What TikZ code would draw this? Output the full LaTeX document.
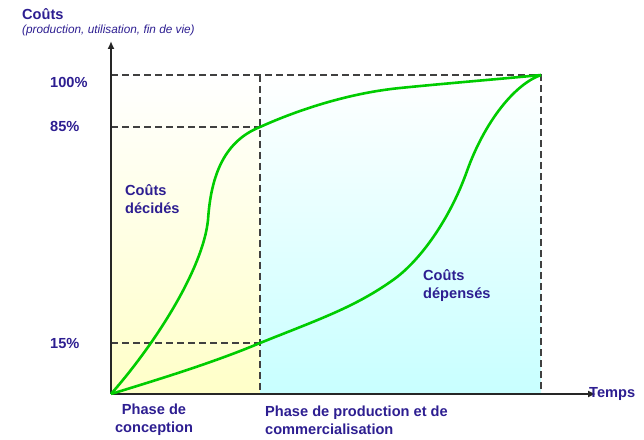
\documentclass[tikz,border=0pt]{standalone}
\usepackage{fontspec}
\setmainfont{Liberation Sans}
\usetikzlibrary{arrows,arrows.meta,positioning}
\definecolor{textblue}{RGB}{45,30,145}
\definecolor{curvegreen}{RGB}{0,204,0}
\definecolor{paleyellow}{RGB}{255,255,200}
\definecolor{palecyan}{RGB}{200,255,255}
\begin{document}
\begin{tikzpicture}[x=1pt,y=1pt,>={Latex[length=8pt,width=7pt]},
		axis line/.style={line width=1.8pt,black!85},
		grid line/.style={dash pattern=on 7pt off 4pt,line width=1.1pt,black!75},
		cost curve/.style={line width=2.6pt,curvegreen},
		blue text/.style={text=textblue,font=\fontsize{14.6}{18}\selectfont\bfseries,inner sep=0pt,align=left}]
		
		\useasboundingbox (0,0) rectangle (644,439);
		
		% fonds
		\shade[top color=white,bottom color=paleyellow] (111,45) rectangle (260,364);
		\shade[top color=white,bottom color=palecyan] (260,45) rectangle (541,364);
		
		\coordinate (o) at (111,45);
		\coordinate (ytop) at (111,398);
		\coordinate (xend) at (596,45);
		\coordinate (c100) at (111,364);
		\coordinate (c85) at (111,312);
		\coordinate (c15) at (111,96);
		\coordinate (m100) at (260,364);
		\coordinate (m85) at (260,312);
		\coordinate (m15) at (260,96);
		\coordinate (m0) at (260,45);
		\coordinate (e100) at (541,364);
		\coordinate (e0) at (541,45);
		
		\draw[grid line] (c100) -- (e100) -- (e0);
		\draw[grid line] (m100) -- (m0);
		\draw[grid line] (c85) -- (m85);
		\draw[grid line] (c15) -- (m15);
		
		\draw[axis line,->] (o) -- (ytop);
		\draw[axis line,->] (o) -- (xend);
		
		% courbes
		\coordinate (d1) at (208,219);
		\coordinate (d2) at (400,351);
		\coordinate (s1) at (393,159);
		\coordinate (s2) at (467,268);
		\draw[cost curve] (o) .. controls (155,95) and (203,170) .. (d1)
			.. controls (211,265) and (225,298) .. (m85)
			.. controls (300,330) and (350,346) .. (d2)
			.. controls (450,356) and (500,360) .. (e100);
		\draw[cost curve] (o) .. controls (160,60) and (215,77) .. (m15)
			.. controls (320,120) and (355,132) .. (s1)
			.. controls (420,178) and (450,220) .. (s2)
			.. controls (485,318) and (515,355) .. (e100);
		
		% textes
		\node[blue text,anchor=west] (titre) at (22,425) {Coûts};
		\node[text=textblue,font=\fontsize{11.8}{14}\selectfont\itshape,inner sep=0pt,anchor=west] (sous) at (22,409) {(production, utilisation, fin de vie)};
		\node[blue text,anchor=west] (p100) at (50,357) {100\%};
		\node[blue text,anchor=west] (p85) at (50,313) {85\%};
		\node[blue text,anchor=west] (p15) at (50,96) {15\%};
		\node[blue text,anchor=west] (decides) at (125,240) {Coûts\\décidés};
		\node[blue text,anchor=west] (depenses) at (423,153) {Coûts\\dépensés};
		\node[blue text,anchor=west] (temps) at (589,45) {Temps};
		\node[blue text,align=center] (conception) at (154,19) {Phase de\\conception};
		\node[blue text,anchor=west] (production) at (265,19) {Phase de production et de\\commercialisation};
		
\end{tikzpicture}
\end{document}
